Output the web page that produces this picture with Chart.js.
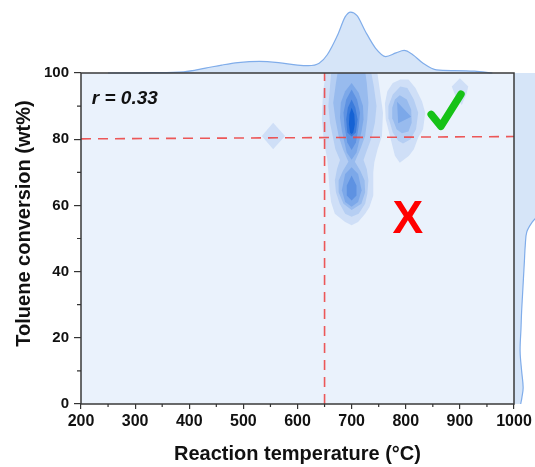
<!DOCTYPE html>
<html>
<head>
<meta charset="utf-8">
<script src="https://cdn.jsdelivr.net/npm/chart.js@4.4.1/dist/chart.umd.min.js"></script>
<style>
  html, body { margin: 0; padding: 0; background: #fff; }
  canvas { display: block; }
</style>
</head>
<body>
<canvas id="kdeChart" width="535" height="467"></canvas>
<script>
// axis ticks
const xTicks = [200, 300, 400, 500, 600, 700, 800, 900, 1000];
const yTicks = [0, 20, 40, 60, 80, 100];
const xMinor = [250, 350, 450, 550, 650, 750, 850, 950];
const yMinor = [10, 30, 50, 70, 90];

// marginal densities (relative to the temperature peak)
const tempGrid = [250, 330, 390, 430, 460, 490, 530, 565, 600, 620, 640, 655, 675, 688, 698, 710, 725, 744, 763, 782, 797, 813, 832, 857, 890, 927, 960];
const tempDensity = [0, 0.005, 0.02, 0.08, 0.13, 0.17, 0.19, 0.17, 0.13, 0.12, 0.16, 0.30, 0.64, 0.92, 1.0, 0.94, 0.69, 0.41, 0.27, 0.33, 0.37, 0.30, 0.16, 0.05, 0.04, 0.03, 0];
const convGrid = [0, 2, 5, 10, 16, 23, 28, 33, 38, 43, 48, 52, 55, 57, 60, 65, 70, 75, 80, 85, 90, 95, 100];
const convDensity = [0.11, 0.13, 0.15, 0.125, 0.10, 0.115, 0.125, 0.14, 0.155, 0.17, 0.185, 0.21, 0.30, 0.40, 0.55, 0.8, 0.95, 1.1, 1.3, 1.4, 1.3, 1.1, 0.9];

// cut-off lines
const cutTemp = 650;
const cutConv = [80.1, 80.8];
const corrLabel = 'r = 0.33';

// KDE contour bands, [temperature, conversion]
const main1 = [[655,103],[745,103],[752,95],[758,88],[756,81],[748,77],[742,73],[740,70],[740,63],[733,59.5],[725,57.5],[712,55],[700,54],[688,55],[669,57.5],[662,61],[659,65],[657,70],[655,74],[649,79],[645,86],[647,94],[655,103]];
const main2 = [[664,103],[733,103],[741,96],[746,90],[743,85],[737,80.5],[728,76.5],[722,73.7],[728,71],[731,67.5],[729,63.5],[725,60.5],[713,57.5],[700,56.6],[688,57.5],[678,60.5],[671,64],[669,67.5],[673,71],[678.5,73.7],[670,77],[665,81],[660,85],[657,90],[660,96],[664,103]];
const main3 = [[677,103],[723,103],[728,97],[731,91],[729,86],[725,81],[716,77],[706,73.2],[716,70.5],[724,67.5],[725,64],[718,60.5],[700,58.6],[685,60.5],[676,64],[676,67.5],[684,70.5],[694,73.2],[684,77],[676,81],[670,86],[666,91],[671,97],[677,103]];
const main4a = [[700,97],[713,94],[721,90],[722,86],[718.5,82.5],[709,76],[700,73.8],[691,76],[682,82.5],[678.5,86.5],[680,91],[688,94.5],[700,97]];
const main4b = [[700,71.5],[712,69.5],[718.5,64.6],[712,61],[700,59.6],[688,61],[682,64.6],[688,69.5],[700,71.5]];
const main5a = [[700,95],[710,92],[715.5,88],[713,83.8],[708,79],[700,76.7],[692,79],[687,83.8],[685,88],[690,92],[700,95]];
const main5b = [[700,69],[709,66],[709,63],[700,61.5],[691,63],[691,66],[700,69]];
const main6 = [[700,92],[707,89.5],[711,86],[708,82],[700,80.8],[692,82],[690,86],[693,89.5],[700,92]];
const main7 = [[700,89.5],[705,87.5],[706,84.5],[703,82],[700,81.5],[697,82],[695,84.5],[696,87.5],[700,89.5]];
const side1 = [[790,98],[805,98],[818,95.5],[830,91.5],[836,88],[832,83],[823,80.5],[815,77],[806,75],[789,72.9],[780,75],[771,80.8],[763,86],[761.5,90.8],[766,94.5],[776,97],[790,98]];
const side2 = [[790,95.9],[803,95.5],[815,92],[823,88],[819,83],[809,80],[795,78.7],[786,79.5],[776,82],[769,86],[768,90],[776,93.5],[790,95.9]];
const side3 = [[789,93.3],[802,92],[810,89],[811,85],[805,82.3],[793,81.8],[783,83],[776,86],[775,89.5],[780,92],[789,93.3]];
const side4 = [[784,91.3],[810,86.8],[786,84.8],[784,91.3]];
const blobHigh = [[885,95.9],[900,98.4],[915.5,95.9],[912.5,93.9],[903.5,90.3],[892,93],[885,95.9]];
const blobLow = [[555,85],[577,81],[555,77],[534,81],[555,85]];

const levelColors = ['#CFDFF7', '#B5CEF3', '#98BBEE', '#7CA8E9', '#5E92E2', '#3B7BDB', '#1562D4'];
const bands = [
  [main1, 1], [side1, 1], [blobHigh, 1], [blobLow, 1],
  [main2, 2], [side2, 2],
  [main3, 3], [side3, 3],
  [main4a, 4], [main4b, 4], [side4, 4],
  [main5a, 5], [main5b, 5],
  [main6, 6],
  [main7, 7]
];

const FONT = '"Liberation Sans", Arial, sans-serif';
Chart.defaults.font.family = FONT;

const toXY = pts => pts.map(([x, y]) => ({ x, y }));

const contourSets = bands.map(([pts, level]) => ({
  data: toXY(pts),
  showLine: true,
  fill: 'shape',
  backgroundColor: levelColors[level - 1],
  borderWidth: 0,
  pointRadius: 0,
  tension: 0,
  order: 20 - level
}));

// plot background = lowest density band
const backdrop = {
  id: 'backdrop',
  beforeDraw(chart) {
    const { ctx, chartArea: a } = chart;
    ctx.save();
    ctx.fillStyle = '#EAF2FC';
    ctx.fillRect(a.left, a.top, a.right - a.left, a.bottom - a.top);
    ctx.restore();
  }
};

// fill under the marginal curves, down to their baseline on the frame
const marginFill = {
  id: 'marginFill',
  beforeDatasetsDraw(chart) {
    const ctx = chart.ctx;
    chart.data.datasets.forEach((ds, i) => {
      if (!ds.edge) return;
      const meta = chart.getDatasetMeta(i);
      const line = meta.dataset;
      const pts = meta.data;
      if (!line || !pts.length) return;
      line.updateControlPoints(chart.chartArea, ds.edge === 'top' ? 'x' : 'y');
      const first = pts[0], last = pts[pts.length - 1];
      ctx.save();
      ctx.beginPath();
      line.path(ctx);
      if (ds.edge === 'top') {
        const base = chart.scales.dTop.getPixelForValue(0);
        ctx.lineTo(last.x, base);
        ctx.lineTo(first.x, base);
      } else {
        const base = chart.scales.dRight.getPixelForValue(0);
        ctx.lineTo(base, last.y);
        ctx.lineTo(base, first.y);
      }
      ctx.closePath();
      ctx.fillStyle = ds.areaColor;
      ctx.fill();
      ctx.restore();
    });
  }
};

const overlay = {
  id: 'overlay',
  afterDatasetsDraw(chart) {
    const { ctx, chartArea: a, scales: { x, y } } = chart;
    ctx.save();

    // frame
    ctx.strokeStyle = '#3a3a3a';
    ctx.lineWidth = 1.5;
    ctx.strokeRect(a.left, a.top, a.right - a.left, a.bottom - a.top);

    // minor ticks
    ctx.strokeStyle = '#333';
    ctx.lineWidth = 1.2;
    ctx.beginPath();
    xMinor.forEach(v => {
      const px = x.getPixelForValue(v);
      ctx.moveTo(px, a.bottom);
      ctx.lineTo(px, a.bottom + 3);
    });
    yMinor.forEach(v => {
      const py = y.getPixelForValue(v);
      ctx.moveTo(a.left, py);
      ctx.lineTo(a.left - 4, py);
    });
    ctx.stroke();

    // correlation label
    ctx.fillStyle = '#111';
    ctx.font = 'italic bold 19px ' + FONT;
    ctx.textAlign = 'left';
    ctx.textBaseline = 'alphabetic';
    ctx.fillText(corrLabel, x.getPixelForValue(220), y.getPixelForValue(90.5));

    // red cross in the low-conversion region
    ctx.fillStyle = '#FF0000';
    ctx.font = 'bold 46px ' + FONT;
    ctx.textAlign = 'center';
    ctx.fillText('X', x.getPixelForValue(804), y.getPixelForValue(51.7));

    // green tick next to the high-conversion cluster
    ctx.strokeStyle = '#17C217';
    ctx.lineWidth = 7.5;
    ctx.lineCap = 'round';
    ctx.lineJoin = 'round';
    ctx.beginPath();
    ctx.moveTo(x.getPixelForValue(847), y.getPixelForValue(87.5));
    ctx.lineTo(x.getPixelForValue(865), y.getPixelForValue(83.9));
    ctx.lineTo(x.getPixelForValue(902), y.getPixelForValue(93.6));
    ctx.stroke();

    // y axis title
    ctx.fillStyle = '#111';
    ctx.font = 'bold 20px ' + FONT;
    ctx.textAlign = 'center';
    ctx.textBaseline = 'middle';
    ctx.translate(24, (a.top + a.bottom) / 2 - 15);
    ctx.rotate(-Math.PI / 2);
    ctx.fillText('Toluene conversion (wt%)', 0, 0);
    ctx.restore();
  }
};

const dashed = {
  showLine: true,
  fill: false,
  borderColor: 'rgba(236, 70, 70, 0.9)',
  borderWidth: 1.6,
  borderDash: [10, 7],
  pointRadius: 0,
  order: 0
};

new Chart(document.getElementById('kdeChart'), {
  type: 'scatter',
  data: {
    datasets: [
      { ...dashed, data: [{ x: cutTemp, y: 0 }, { x: cutTemp, y: 100 }] },
      { ...dashed, data: [{ x: xTicks[0], y: cutConv[0] }, { x: xTicks[xTicks.length - 1], y: cutConv[1] }] },
      ...contourSets,
      {
        edge: 'top',
        data: tempGrid.map((t, i) => ({ x: t, y: tempDensity[i] })),
        xAxisID: 'x', yAxisID: 'dTop',
        showLine: true, fill: false, clip: false,
        borderColor: '#80ADEA', borderWidth: 1.2,
        areaColor: '#D6E5F8',
        cubicInterpolationMode: 'monotone',
        pointRadius: 0, order: 30
      },
      {
        edge: 'right',
        data: convGrid.map((c, i) => ({ x: convDensity[i], y: c })),
        xAxisID: 'dRight', yAxisID: 'y',
        showLine: true, fill: false, clip: false,
        borderColor: '#80ADEA', borderWidth: 1.2,
        areaColor: '#D6E5F8',
        tension: 0.35,
        pointRadius: 0, order: 30
      }
    ]
  },
  options: {
    responsive: false,
    animation: false,
    layout: { padding: { top: 73, right: 21, bottom: 0, left: 0 } },
    plugins: { legend: { display: false }, tooltip: { enabled: false } },
    scales: {
      x: {
        type: 'linear', position: 'bottom', min: 200, max: 1000,
        afterBuildTicks: s => { s.ticks = xTicks.map(v => ({ value: v })); },
        afterFit: s => { s.height = 63; },
        ticks: {
          callback: v => String(v), color: '#111', padding: 3,
          maxRotation: 0, autoSkip: false,
          font: { size: 16, weight: 'bold' }
        },
        grid: { drawOnChartArea: false, drawTicks: true, tickLength: 5, color: '#333', lineWidth: 1.2 },
        border: { display: false },
        title: {
          display: true, text: 'Reaction temperature (°C)', color: '#111',
          font: { size: 20, weight: 'bold' }, padding: { top: 0, bottom: 1 }
        }
      },
      y: {
        type: 'linear', position: 'left', min: 0, max: 100,
        afterBuildTicks: s => { s.ticks = yTicks.map(v => ({ value: v })); },
        afterFit: s => { s.width = 81; },
        ticks: {
          callback: v => String(v), color: '#111', padding: 5,
          font: { size: 15, weight: 'bold' }
        },
        grid: { drawOnChartArea: false, drawTicks: true, tickLength: 7, color: '#333', lineWidth: 1.2 },
        border: { display: false },
        title: { display: false }
      },
      dTop: { type: 'linear', axis: 'y', position: 'left', display: false, min: -5.43, max: 0 },
      dRight: { type: 'linear', axis: 'x', position: 'bottom', display: false, min: -7.1, max: 0 }
    }
  },
  plugins: [backdrop, marginFill, overlay]
});
</script>
</body>
</html>
